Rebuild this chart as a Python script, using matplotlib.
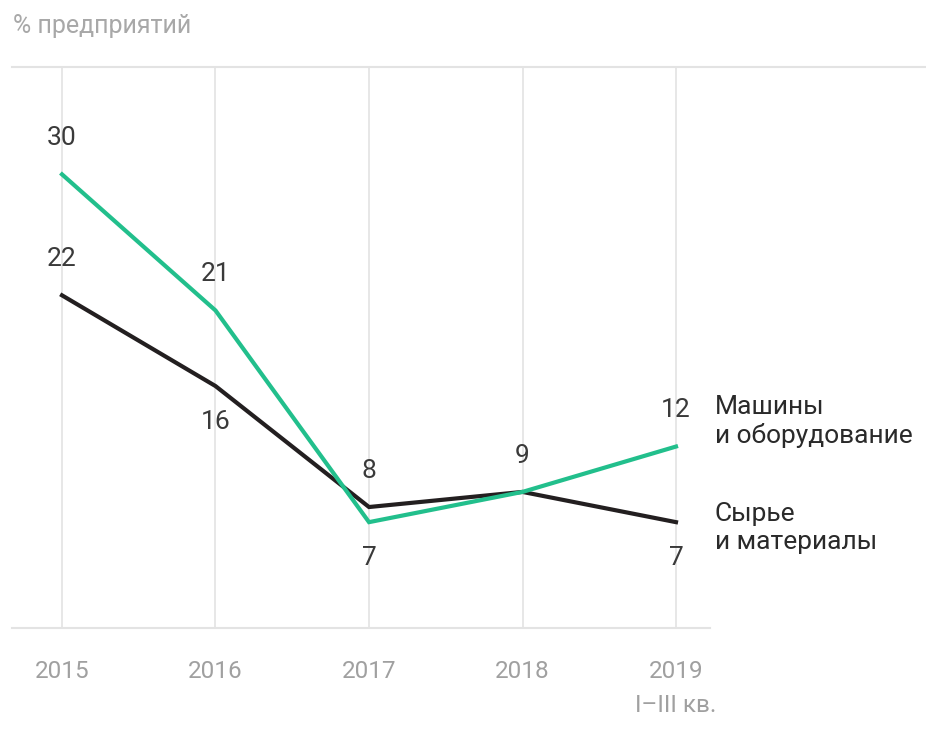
import matplotlib
matplotlib.use("Agg")
import matplotlib.pyplot as plt
from matplotlib.lines import Line2D

years = [2015, 2016, 2017, 2018, 2019]
tick_labels = ["2015", "2016", "2017", "2018", "2019\nI–III кв."]
machines = [30, 21, 7, 9, 12]
materials = [22, 16, 8, 9, 7]
machines_name = "Машины\nи оборудование"
materials_name = "Сырье\nи материалы"
y_label = "% предприятий"

# label placement: +1 above, -1 below
machines_pos = [1, 1, -1, 1, 1]
materials_pos = [1, -1, 1, 1, -1]

plt.rcParams['font.family'] = ['Roboto', 'DejaVu Sans']

W, H = 926, 738
fig = plt.figure(figsize=(W / 100, H / 100), dpi=100)
ax = fig.add_axes([12 / W, 1 - 628 / H, (710 - 12) / W, (628 - 67) / H])
ax.set_xlim(2015 - 50 / 153.5, 2019 + 34 / 153.5)
ax.set_ylim(0, 37.1)

green = "#22bf8c"
black = "#231f20"
grid = "#e3e3e3"
tick_col = "#a0a0a0"

for y in years:
    ax.axvline(y, color=grid, lw=1.2, zorder=0)

for s in ["top", "right", "left"]:
    ax.spines[s].set_visible(False)
ax.spines["bottom"].set_color(grid)
ax.spines["bottom"].set_linewidth(1.5)

# top line extends to the right edge
fig.add_artist(Line2D([12 / W, 925 / W], [1 - 67 / H, 1 - 67 / H], color=grid, lw=1.5))

ax.plot(years, materials, color=black, lw=3, zorder=3, solid_joinstyle="miter")
ax.plot(years, machines, color=green, lw=3, zorder=4, solid_joinstyle="miter")

ax.set_yticks([])
ax.set_xticks(years)
ax.set_xticklabels(tick_labels, color=tick_col, fontsize=17.5, linespacing=1.6, va="top")
ax.tick_params(axis="x", length=0, pad=23)

val_col = "#3a3a3a"
for x, v, p in zip(years, machines, machines_pos):
    ax.annotate(str(v), (x, v), xytext=(0, 26 * p), textcoords="offset points",
                ha="center", va="center", fontsize=19, color=val_col)
for x, v, p in zip(years, materials, materials_pos):
    if x == 2018:
        continue
    ax.annotate(str(v), (x, v), xytext=(0, 26 * p), textcoords="offset points",
                ha="center", va="center", fontsize=19, color=val_col)

fig.text(715 / W, 1 - 421 / H, machines_name, ha="left", va="center",
         fontsize=19, color="#2a2a2a", linespacing=1.2)
fig.text(715 / W, 1 - 528 / H, materials_name, ha="left", va="center",
         fontsize=19, color="#2a2a2a", linespacing=1.2)

fig.text(13 / W, 1 - 26 / H, y_label, ha="left", va="center", fontsize=18, color="#a8a8a8")

fig.savefig("out.png", dpi=100, facecolor="white")
